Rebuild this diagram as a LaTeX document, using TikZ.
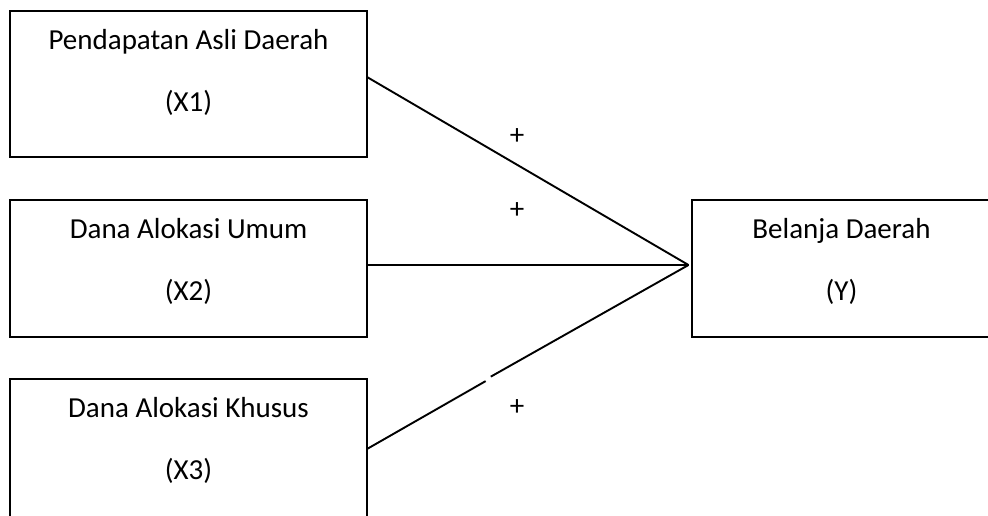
\documentclass[tikz,border=0pt]{standalone}
\usepackage{fontspec}
\setmainfont{Carlito}
\usetikzlibrary{positioning,calc}
\tikzset{variable node/.style={rectangle, draw, line width=2pt,
    minimum width=357pt, minimum height=#1, inner sep=0pt, outer sep=0pt}}
\tikzset{caption node/.style={align=center, inner sep=0pt, font=\fontsize{29}{62}\selectfont}}
\tikzset{sign node/.style={inner sep=0pt, font=\fontsize{29}{35}\selectfont}}
\tikzset{regular edge/.style={draw, line width=1.9pt}}

\begin{document}
\begin{tikzpicture}
  [x=1pt, y=-1pt]
  \useasboundingbox (0,0) rectangle (988,515);
  \clip (0,0) rectangle (988,515);

  \node [variable node=146pt] (x1) at (188.5,  84.0) {};
  \node [variable node=137pt] (x2) at (188.5, 268.5) {};
  \node [variable node=146pt] (x3) at (188.5, 452.0) {};
  \node [variable node=137pt, minimum width=300pt] (y) at (841.5, 268.5) {};

  \node [caption node, below=18pt of x1.north] (x1 text) {Pendapatan Asli Daerah\\(X1)};
  \node [caption node, below=18pt of x2.north] (x2 text) {Dana Alokasi Umum\\(X2)};
  \node [caption node, below=18pt of x3.north] (x3 text) {Dana Alokasi Khusus\\(X3)};
  \node [caption node, below=18pt of y.north]  (y text)  {Belanja Daerah\\(Y)};

  \coordinate (hub)   at ($(y.west)+(-3,-3.5)$);
  \coordinate (x1 out) at ($(x1.east)+(0,-7)$);
  \coordinate (x2 out) at ($(x2.east)+(0,-3.5)$);
  \coordinate (x3 out) at ($(x3.east)+(0,-3)$);
  \coordinate (gap a) at ($(x3 out)!0.369!(hub)$);
  \coordinate (gap b) at ($(x3 out)!0.385!(hub)+(0,-1.5)$);

  \draw [regular edge] (x1 out) -- (hub);
  \draw [regular edge] (x2 out) -- (hub);
  \draw [regular edge] (x3 out) -- (gap a);
  \draw [regular edge] (gap b) -- (hub);

  \node [sign node] (plus1) at (517, 137) {+};
  \node [sign node] (plus2) at (517, 211) {+};
  \node [sign node] (plus3) at (517, 408) {+};
\end{tikzpicture}
\end{document}
